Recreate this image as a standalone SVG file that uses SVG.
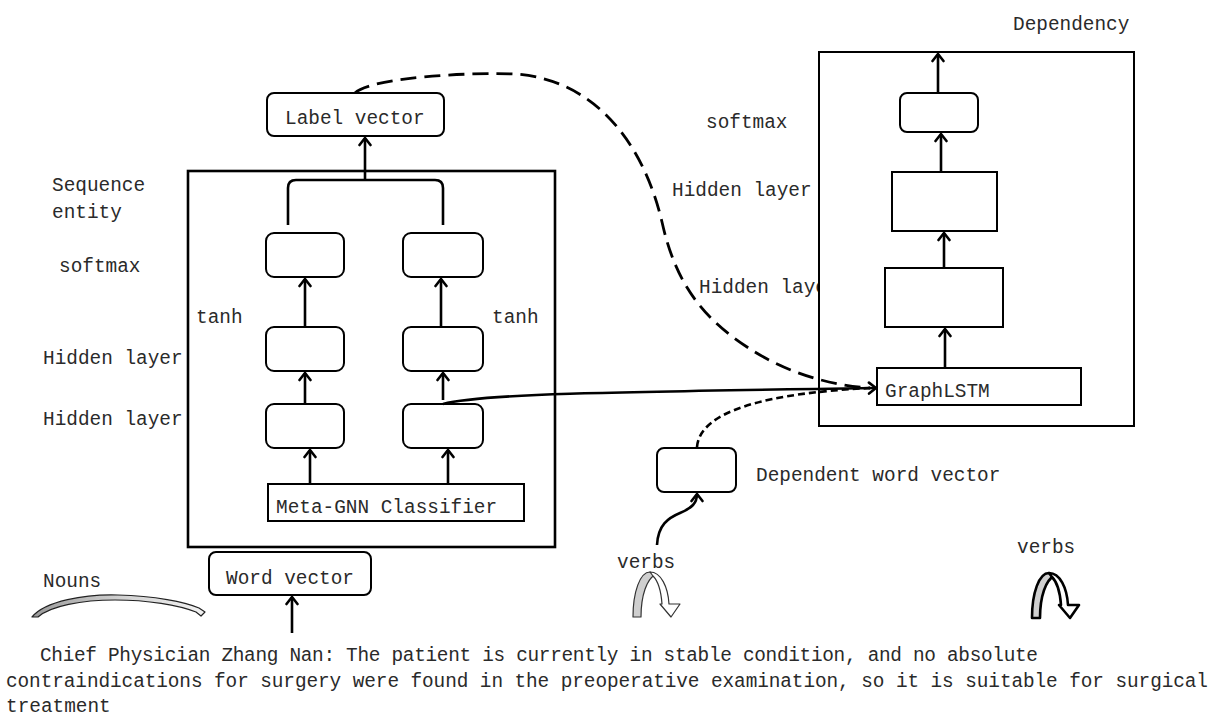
<svg xmlns="http://www.w3.org/2000/svg" width="1211" height="717" viewBox="0 0 1211 717">
  <style>
    .box { fill: #fff; stroke: #000; stroke-width: 2; }
    .frame { fill: none; stroke: #000; stroke-width: 2.6; }
    .lbl { font-family: "Liberation Mono", "DejaVu Sans Mono", monospace; font-size: 19.4px; fill: #2a2a2a; }
    .arrow { fill: none; stroke: #000; stroke-width: 2.6; marker-end: url(#head); }
    .plain { fill: none; stroke: #000; stroke-width: 2.6; }
    .dash { fill: none; stroke: #000; stroke-width: 2.8; stroke-dasharray: 16 8; }
    .dots { fill: none; stroke: #000; stroke-width: 2.6; stroke-dasharray: 7 4; }
  </style>
  <defs>
    <marker id="head" viewBox="-10 -8 12 16" refX="0" refY="0" markerWidth="12" markerHeight="16" markerUnits="userSpaceOnUse" orient="auto">
      <path d="M-7,-5.5 L0,0 L-7,5.5" fill="none" stroke="#000" stroke-width="2.6" stroke-linecap="round" stroke-linejoin="miter"/>
    </marker>
    <linearGradient id="ribbon" x1="0" y1="0" x2="1" y2="0">
      <stop offset="0" stop-color="#9a9a9a"/>
      <stop offset="0.5" stop-color="#d0d0d0"/>
      <stop offset="1" stop-color="#f2f2f2"/>
    </linearGradient>
    <!-- U-turn arrow: shaded back leg and white front leg with head -->
    <g id="uturn">
      <path d="M0,0 C0,-25 7,-45 17,-45 L22,-42 C14,-38 8,-22 8,0 Z" fill="#cfcfcf"/>
      <path d="M17,-45 C28,-45 35,-30 36,-13 L47,-13 L38,0 L27,-13 L29,-13 C28,-27 25,-36 20,-41 Z" fill="#fff"/>
    </g>
  </defs>

  <rect width="1211" height="717" fill="#fff"/>

  <!-- side labels -->
  <g id="labels">
    <text class="lbl" x="52" y="191">Sequence</text>
    <text class="lbl" x="52" y="218">entity</text>
    <text class="lbl" x="59" y="272">softmax</text>
    <text class="lbl" x="196" y="323">tanh</text>
    <text class="lbl" x="492" y="323">tanh</text>
    <text class="lbl" x="43" y="364">Hidden layer</text>
    <text class="lbl" x="43" y="425">Hidden layer</text>
    <text class="lbl" x="43" y="587">Nouns</text>
    <text class="lbl" x="1013" y="30">Dependency</text>
    <text class="lbl" x="706" y="128">softmax</text>
    <text class="lbl" x="946" y="160">tanh</text>
    <text class="lbl" x="672" y="196">Hidden layer</text>
    <text class="lbl" x="699" y="293">Hidden layer</text>
    <text class="lbl" x="617" y="568">verbs</text>
    <text class="lbl" x="1017" y="553">verbs</text>
  </g>

  <!-- sequence entity branch -->
  <g id="sequence-frame"><rect class="frame" x="188" y="171" width="367" height="376"/></g>
  <g id="label-vector">
    <rect class="box" x="267" y="93" width="177" height="43" rx="7"/>
    <text class="lbl" x="285" y="124">Label vector</text>
  </g>
  <g id="softmax-left"><rect class="box" x="266" y="233" width="78" height="44" rx="8"/></g>
  <g id="softmax-right"><rect class="box" x="403" y="233" width="80" height="44" rx="8"/></g>
  <g id="hidden-left-top"><rect class="box" x="266" y="327" width="78" height="44" rx="8"/></g>
  <g id="hidden-right-top"><rect class="box" x="403" y="327" width="80" height="44" rx="8"/></g>
  <g id="hidden-left-bottom"><rect class="box" x="266" y="404" width="78" height="44" rx="8"/></g>
  <g id="hidden-right-bottom"><rect class="box" x="403" y="404" width="80" height="44" rx="8"/></g>
  <g id="meta-gnn">
    <rect class="box" x="268" y="484" width="256" height="37"/>
    <text class="lbl" x="276" y="513">Meta-GNN Classifier</text>
  </g>
  <g id="word-vector">
    <rect class="box" x="209" y="552" width="162" height="43" rx="7"/>
    <text class="lbl" x="226" y="584">Word vector</text>
  </g>

  <!-- dependency branch -->
  <g id="dependency-frame"><rect class="box" x="819" y="52" width="315" height="374"/></g>
  <g id="dep-softmax"><rect class="box" x="900" y="93" width="78" height="39" rx="7"/></g>
  <g id="dep-hidden-top"><rect class="box" x="892" y="172" width="105" height="59"/></g>
  <g id="dep-hidden-bottom"><rect class="box" x="885" y="268" width="118" height="59"/></g>
  <g id="graphlstm">
    <rect class="box" x="877" y="368" width="204" height="37"/>
    <text class="lbl" x="885" y="397">GraphLSTM</text>
  </g>
  <g id="dep-word-vector">
    <rect class="box" x="657" y="448" width="79" height="44" rx="7"/>
    <text class="lbl" x="756" y="481">Dependent word vector</text>
  </g>

  <!-- part-of-speech glyphs -->
  <g id="nouns-arrow">
    <path d="M32,617 C45,601 85,594 118,595 C155,596 185,602 199,608 L205,612 L201,616 L196,612 C178,605 148,600 115,600 C82,600 50,606 38,617 Z" fill="url(#ribbon)" stroke="#222" stroke-width="1.2" stroke-linejoin="round"/>
  </g>
  <g id="verbs-arrow-left">
    <use href="#uturn" transform="translate(633,617)" stroke="#333" stroke-width="1.2" stroke-linejoin="round"/>
  </g>
  <g id="verbs-arrow-right">
    <use href="#uturn" transform="translate(1032,618)" stroke="#000" stroke-width="2.6" stroke-linejoin="round"/>
  </g>

  <!-- connectors -->
  <g id="connectors">
    <path class="plain" d="M288,225 L288,188 Q288,180 296,180 L435,180 Q443,180 443,188 L443,225"/>
    <path class="arrow" d="M365,180 L365,138"/>
    <path class="arrow" d="M305,327 L305,279"/>
    <path class="arrow" d="M441,327 L441,279"/>
    <path class="arrow" d="M305,404 L305,373"/>
    <path class="arrow" d="M443,400 L443,373"/>
    <path class="arrow" d="M310,484 L310,450"/>
    <path class="arrow" d="M448,484 L448,450"/>
    <path class="arrow" d="M292,633 L292,597"/>
    <path class="arrow" d="M938,92 L938,54"/>
    <path class="arrow" d="M941,172 L941,134"/>
    <path class="arrow" d="M944,268 L944,233"/>
    <path class="arrow" d="M945,368 L945,329"/>
    <path class="arrow" d="M443,404 C480,394 600,392 876,388"/>
    <path class="dash" d="M355,93 C370,78 465,72 515,74 C600,80 645,150 662,222 C675,280 700,320 760,355 C800,378 840,386 870,388"/>
    <path class="dots" d="M697,447 C700,410 770,393 870,388"/>
    <path class="arrow" d="M657,545 C658,525 668,518 680,513 C692,508 697,503 697,494"/>
  </g>

  <!-- sentence -->
  <g id="sentence">
    <text class="lbl" x="40" y="661" textLength="998">Chief Physician Zhang Nan: The patient is currently in stable condition, and no absolute</text>
    <text class="lbl" x="6" y="687" textLength="1202">contraindications for surgery were found in the preoperative examination, so it is suitable for surgical</text>
    <text class="lbl" x="6" y="712">treatment</text>
  </g>
</svg>
